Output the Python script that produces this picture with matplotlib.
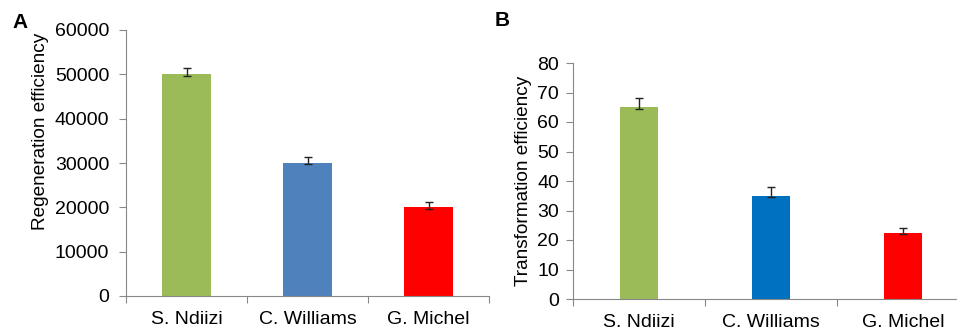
import matplotlib
matplotlib.use("Agg")
import matplotlib.pyplot as plt
import numpy as np

plt.rcParams['font.family'] = ['Liberation Sans', 'DejaVu Sans']

# data
cultivars = ["S. Ndiizi", "C. Williams", "G. Michel"]
regen_vals = [50000, 30000, 20000]
regen_err_lo = [300, 300, 300]
regen_err_hi = [1400, 1300, 1100]
trans_vals = [65, 35, 22.5]
trans_err_lo = [0.5, 0.5, 0.5]
trans_err_hi = [3.0, 2.9, 1.5]

colors_a = ["#9BBB59", "#4F81BD", "#FF0000"]
colors_b = ["#9BBB59", "#0070C0", "#FF0000"]

W, H = 957, 331
fig = plt.figure(figsize=(W / 100, H / 100), dpi=100)

def px_axes(left, top, right, bottom):
    return fig.add_axes([left / W, 1 - bottom / H, (right - left) / W, (bottom - top) / H])

axis_col = "#888888"

def style(ax, ymax, step, ylabel, ypad, vals, err_lo, err_hi, colors, width):
    x = np.arange(len(vals))
    ax.bar(x, vals, width=width, color=colors, zorder=2)
    ax.errorbar(x, vals, yerr=[err_lo, err_hi], fmt='none', ecolor="#222222",
                elinewidth=1, capsize=3, capthick=1, zorder=3)
    ax.set_xlim(-0.5, 2.5)
    ax.set_ylim(0, ymax)
    ax.set_yticks(np.arange(0, ymax + step, step))
    ax.set_xticks([-0.5, 0.5, 1.5, 2.5])
    ax.set_xticklabels([])
    ax.set_xticks(x, minor=True)
    ax.set_xticklabels(cultivars, minor=True, fontsize=14)
    ax.tick_params(axis='x', which='minor', length=0, pad=11)
    ax.tick_params(axis='x', which='major', length=5, color=axis_col)
    ax.tick_params(axis='y', length=5, color=axis_col, labelsize=14, pad=ypad)
    for s in ['top', 'right']:
        ax.spines[s].set_visible(False)
    for s in ['left', 'bottom']:
        ax.spines[s].set_color(axis_col)
    ax.set_ylabel(ylabel, fontsize=13.7, va='center')

ax1 = px_axes(126, 30, 489, 296)
style(ax1, 60000, 10000, "Regeneration efficiency", 7, regen_vals,
      regen_err_lo, regen_err_hi, colors_a, 0.4)
ax1.yaxis.set_label_coords(-85 / 363, 0.62)

ax2 = px_axes(573, 63, 969, 299)
style(ax2, 80, 10, "Transformation efficiency", 5, trans_vals,
      trans_err_lo, trans_err_hi, colors_b, 0.29)
ax2.yaxis.set_label_coords(-50 / 396, 0.5)

fig.text(12 / W, 1 - 22 / H, "A", fontsize=15, fontweight='bold', va='center')
fig.text(495 / W, 1 - 21 / H, "B", fontsize=15, fontweight='bold', va='center')

fig.savefig("out.png", dpi=100)
